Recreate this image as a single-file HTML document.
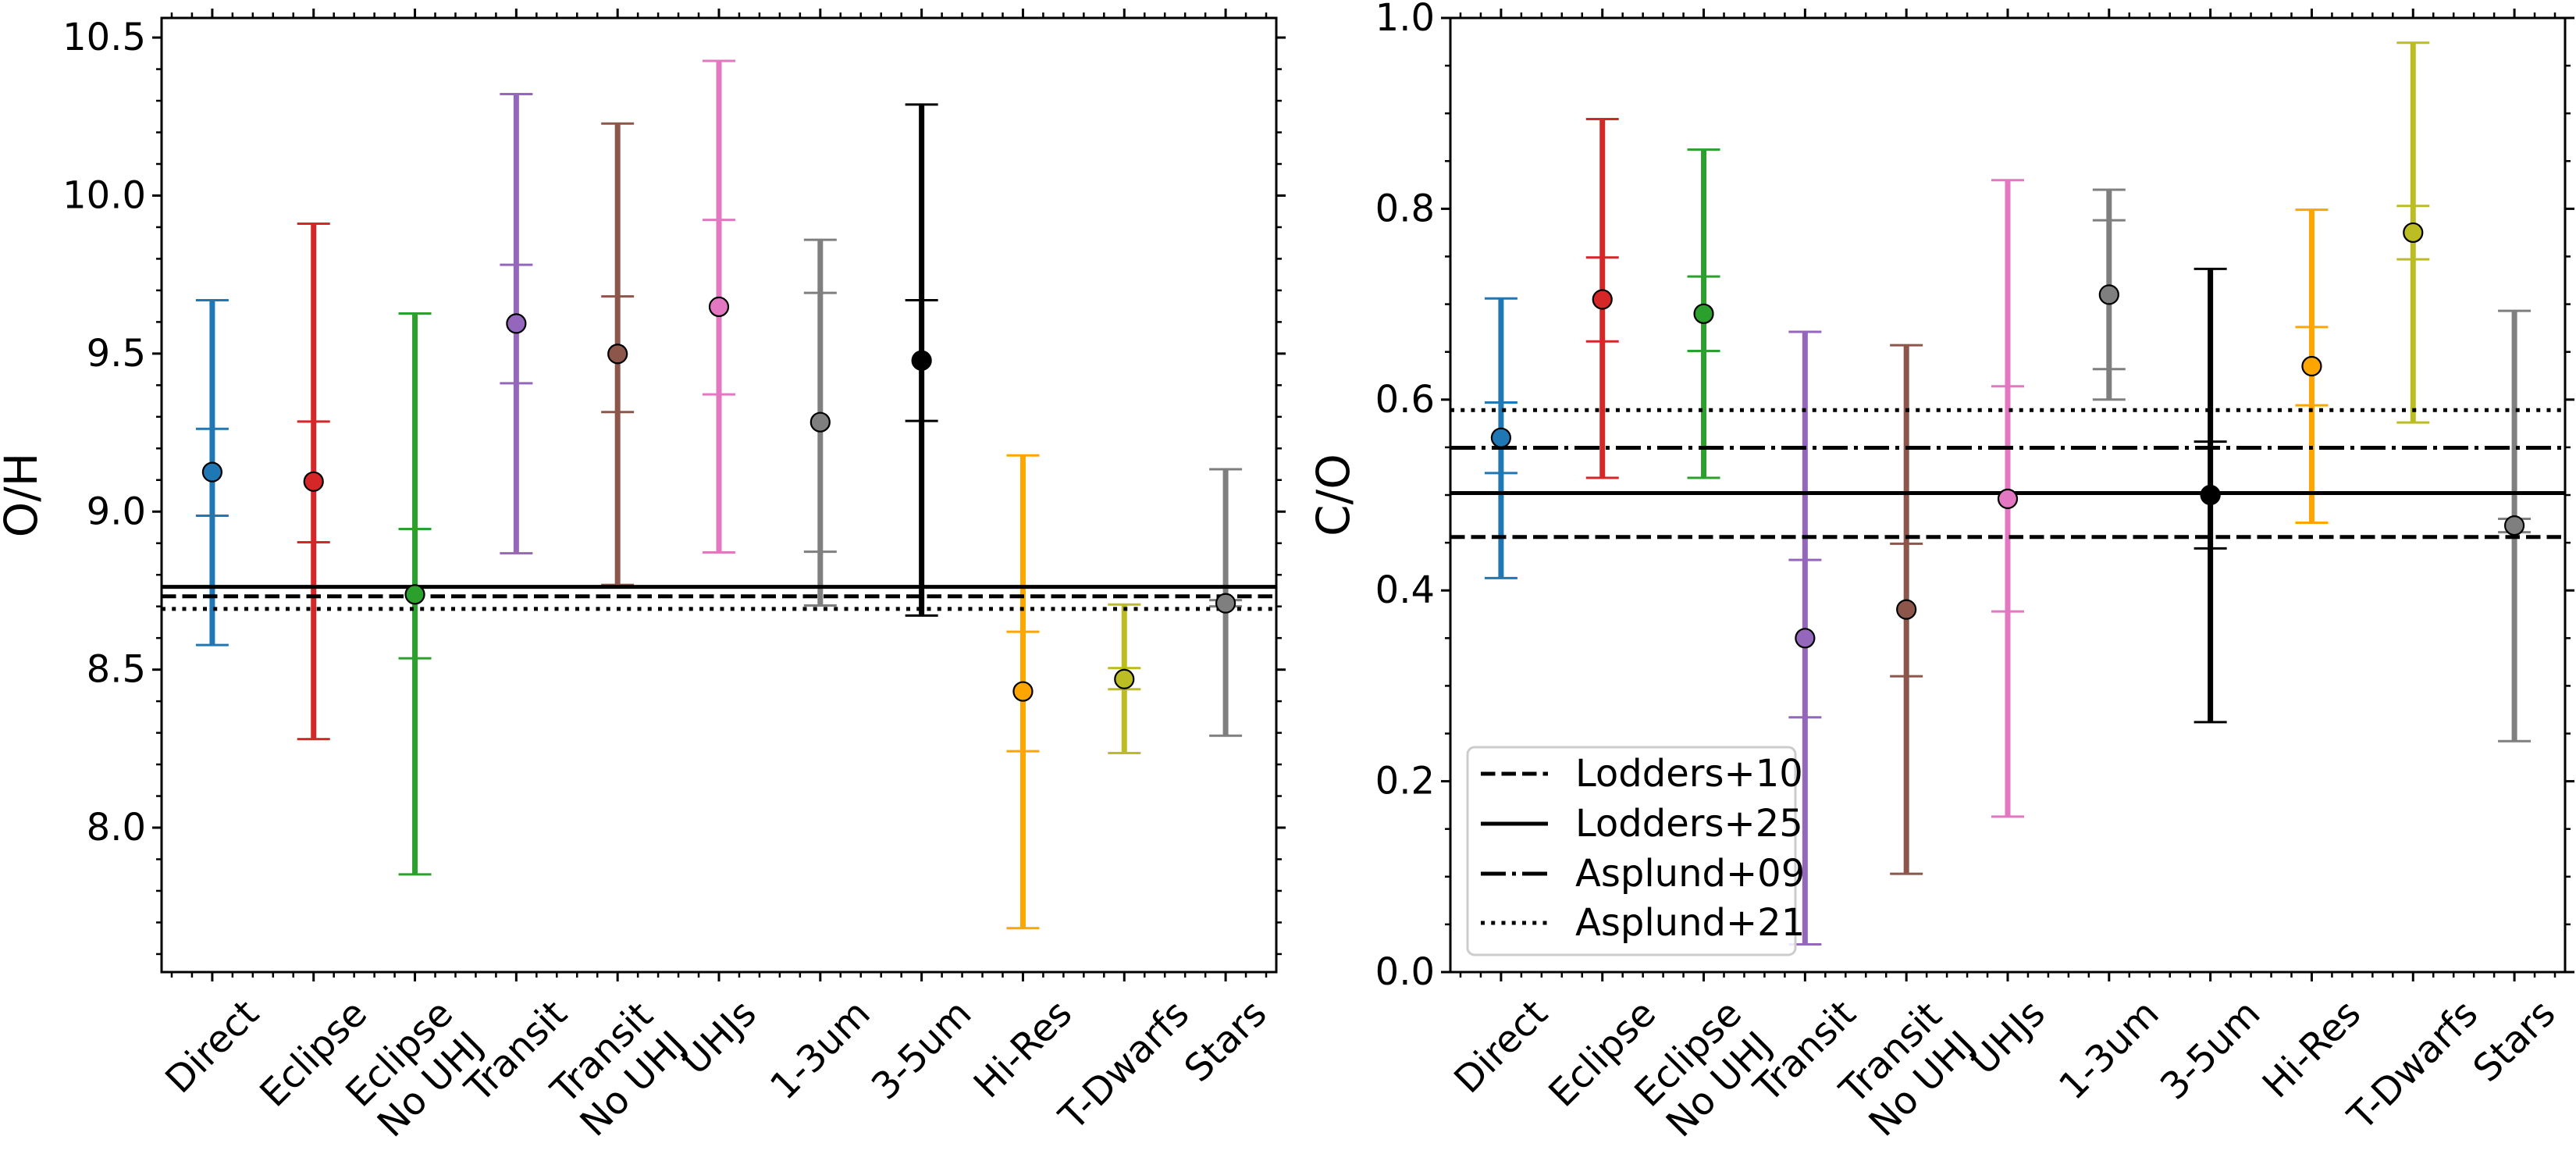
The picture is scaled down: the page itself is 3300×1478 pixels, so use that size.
<!DOCTYPE html>
<html><head><meta charset="utf-8">
<style>
html,body{margin:0;padding:0;background:#fff;}
svg{display:block;font-family:"DejaVu Sans","Liberation Sans",sans-serif;}
</style></head>
<body>
<svg id="fig" width="3300" height="1478" viewBox="0 0 3300 1478" xmlns="http://www.w3.org/2000/svg">
<rect width="3300" height="1478" fill="#fff"/>
</svg>
<script>
const categories = ["Direct","Eclipse","Eclipse\nNo UHJ","Transit","Transit\nNo UHJ","UHJs","1-3um","3-5um","Hi-Res","T-Dwarfs","Stars"];
const colors = ["#1f77b4","#d62728","#2ca02c","#9467bd","#8c564b","#e377c2","#7f7f7f","#000000","#ffa500","#bcbd22","#7f7f7f"];
// O/H
const ohVal     = [9.125,9.095,8.738,9.595,9.499,9.648,9.283,9.478,8.431,8.470,8.710];
const ohInnerLo = [8.987,8.903,8.536,9.406,9.315,9.371,8.873,9.287,8.242,8.438,8.700];
const ohInnerHi = [9.262,9.285,8.945,9.781,9.681,9.923,9.692,9.669,8.620,8.505,8.720];
const ohOuterLo = [8.578,8.280,7.852,8.868,8.768,8.871,8.703,8.671,7.682,8.236,8.291];
const ohOuterHi = [9.669,9.911,9.627,10.321,10.228,10.426,9.860,10.288,9.178,8.706,9.134];
const ohRefs    = [8.732,8.762,null,8.692]; // Lodders+10, Lodders+25, Asplund+09, Asplund+21
const ohTicks   = ["8.0","8.5","9.0","9.5","10.0","10.5"];
// C/O
const coVal     = [0.560,0.705,0.690,0.350,0.380,0.496,0.710,0.500,0.635,0.775,0.468];
const coInnerLo = [0.523,0.661,0.651,0.267,0.310,0.378,0.632,0.444,0.594,0.747,0.461];
const coInnerHi = [0.597,0.749,0.729,0.432,0.449,0.614,0.788,0.556,0.676,0.803,0.475];
const coOuterLo = [0.413,0.518,0.518,0.029,0.103,0.163,0.600,0.262,0.471,0.576,0.242];
const coOuterHi = [0.706,0.894,0.862,0.671,0.657,0.830,0.820,0.737,0.799,0.974,0.693];
const coRefs    = [0.456,0.502,0.5495,0.589];
const coTicks   = ["0.0","0.2","0.4","0.6","0.8","1.0"];
const refNames  = ["Lodders+10","Lodders+25","Asplund+09","Asplund+21"];
const refDash   = ["18.5,8","","32,8,5,8","5,8.25"];

const NS="http://www.w3.org/2000/svg";
const svg=document.getElementById('fig');
function el(tag,attrs,parent){const e=document.createElementNS(NS,tag);for(const k in attrs)e.setAttribute(k,attrs[k]);(parent||svg).appendChild(e);return e;}

function panel(cfg){
  const L=cfg.left,R=cfg.right,T=23,B=1245;
  const g=el('g',{});
  
  
  const xs=i=>L+(i+0.5)/11*(R-L);
  const ys=v=>B-(v-cfg.ymin)/(cfg.ymax-cfg.ymin)*(B-T);
  // error bars
  categories.forEach((c,i)=>{
    const eg=el('g',{},g);
    
    
    const x=xs(i),col=colors[i];
    el('line',{x1:x,x2:x,y1:ys(cfg.olo[i]),y2:ys(cfg.ohi[i]),stroke:col,'stroke-width':7},eg);
    [cfg.olo[i],cfg.ohi[i],cfg.ilo[i],cfg.ihi[i]].forEach(v=>{
      el('line',{x1:x-21,x2:x+21,y1:ys(v),y2:ys(v),stroke:col,'stroke-width':3},eg);
    });
  });
  // reference lines
  cfg.refs.forEach((v,k)=>{
    if(v===null)return;
    const ln=el('line',{x1:L,x2:R,y1:ys(v),y2:ys(v),stroke:'#000','stroke-width':5},g);
    if(refDash[k])ln.setAttribute('stroke-dasharray',refDash[k]);
    
    
  });
  // markers
  categories.forEach((c,i)=>{
    const m=el('circle',{cx:xs(i),cy:ys(cfg.val[i]),r:12,fill:colors[i],stroke:'#000','stroke-width':2.2},g);
    
    
  });
  // frame
  const fr=el('rect',{x:L,y:T,width:R-L,height:B-T,fill:'none',stroke:'#000','stroke-width':3},g);
  
  
  // y ticks
  const nmin=Math.ceil(cfg.ymin/cfg.minor-1e-6),nmax=Math.floor(cfg.ymax/cfg.minor+1e-6);
  for(let n=nmin;n<=nmax;n++){
    const v=n*cfg.minor,y=ys(v);
    const isMaj=Math.abs(v/cfg.major-Math.round(v/cfg.major))<1e-6;
    const len=isMaj?12:7,w=isMaj?3:2.5;
    el('line',{x1:L-len,x2:L,y1:y,y2:y,stroke:'#000','stroke-width':w},g);
    el('line',{x1:R,x2:R+len,y1:y,y2:y,stroke:'#000','stroke-width':w},g);
  }
  cfg.ticks.forEach(t=>{
    const tx=el('text',{x:L-20,y:ys(parseFloat(t)),'font-size':48,'text-anchor':'end','dominant-baseline':'central'},g);
    tx.textContent=t;
    
    
  });
  // x ticks
  for(let k=-2;k<=52;k++){
    const p=k*0.2;if(p<-0.5||p>10.5)continue;
    const x=L+(p+0.5)/11*(R-L);
    const isMaj=k%5===0,len=isMaj?12:7,w=isMaj?3:2.5;
    el('line',{x1:x,x2:x,y1:B,y2:B+len,stroke:'#000','stroke-width':w},g);
    el('line',{x1:x,x2:x,y1:T-len,y2:T,stroke:'#000','stroke-width':w},g);
  }
  categories.forEach((c,i)=>{
    const lines=c.split('\n');
    const tg=el('g',{},g);
    
    
    const t=el('text',{'font-size':48,'text-anchor':'middle'},tg);
    lines.forEach((s,j)=>{const sp=el('tspan',{x:0,dy:j===0?0:56},t);sp.textContent=s;});
    const bb=t.getBBox();
    const w=bb.width,h=lines.length*56;
    t.setAttribute('transform','translate(0,'+(-bb.y-bb.height/2)+')');
    const half=(w+h)/Math.SQRT2/2;
    tg.setAttribute('transform','translate('+xs(i)+','+(B+25+half)+') rotate(-45)');
  });
  // y label
  const yl=el('text',{x:0,y:0,'font-size':58,'text-anchor':'middle','dominant-baseline':'central',transform:'translate('+cfg.ylx+','+(T+B)/2+') rotate(-90)'},g);
  yl.textContent=cfg.ylabel;
  
  
  return {xs,ys,g};
}

panel({name:'oh-panel',left:207,right:1635,ymin:7.543,ymax:10.562,major:0.5,minor:0.1,ticks:ohTicks,
  val:ohVal,ilo:ohInnerLo,ihi:ohInnerHi,olo:ohOuterLo,ohi:ohOuterHi,refs:ohRefs,ylabel:'O/H',ylx:27});
const P2=panel({name:'co-panel',left:1858,right:3286,ymin:0,ymax:1,major:0.2,minor:0.05,ticks:coTicks,
  val:coVal,ilo:coInnerLo,ihi:coInnerHi,olo:coOuterLo,ohi:coOuterHi,refs:coRefs,ylabel:'C/O',ylx:1708});

// legend
const lg=el('g',{});


el('rect',{x:1880,y:957,width:420,height:266,rx:9,fill:'#fff','fill-opacity':0.85,stroke:'#cccccc','stroke-width':3},lg);
const rowY=[991,1055,1119,1182];
refNames.forEach((n,k)=>{
  const eg=el('g',{},lg);
  
  
  const ln=el('line',{x1:1897,x2:1983,y1:rowY[k],y2:rowY[k],stroke:'#000','stroke-width':5},eg);
  if(refDash[k])ln.setAttribute('stroke-dasharray',refDash[k]);
  const t=el('text',{x:2018,y:rowY[k],'font-size':48,'dominant-baseline':'central'},eg);
  t.textContent=n;
});
</script>
</body></html>
